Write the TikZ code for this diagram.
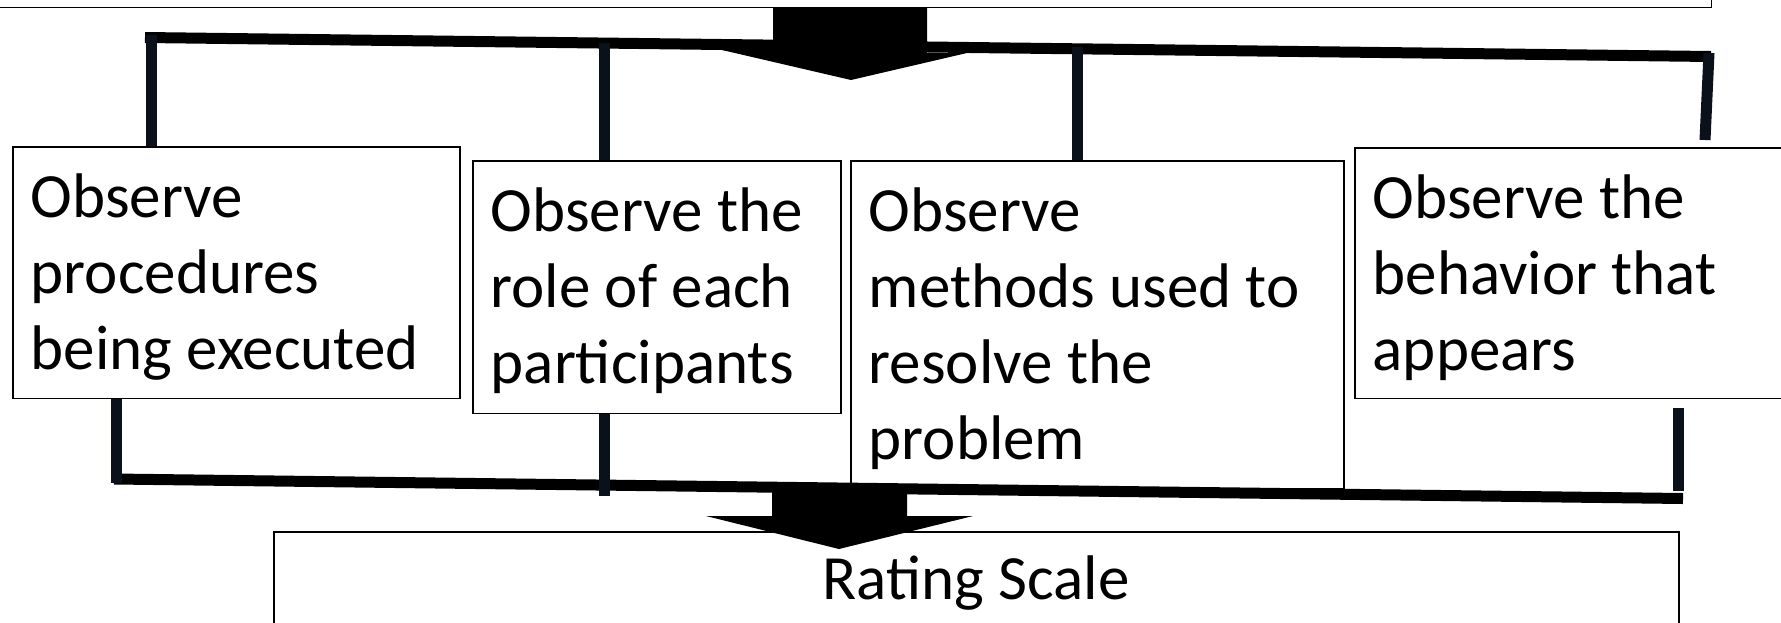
\documentclass[tikz,border=0pt]{standalone}
\usepackage{fontspec}
\setmainfont{Carlito}
\definecolor{stemcol}{RGB}{11,17,26}

\begin{document}
\begin{tikzpicture}[x=1pt,y=-1pt,
      observe/.style ={rectangle, draw, line width=1.5pt, anchor=north west, inner xsep=18pt, inner ysep=0pt, align=flush left, text height=70.5pt, font=\fontsize{63}{76}\selectfont},
      bus/.style ={line width=11pt},
      branch/.style ={line width=11pt, stemcol}]
   \useasboundingbox (0,0) rectangle (1781,622);
   \clip (0,0) rectangle (1781,622);
   \node[draw, line width=1.5pt, anchor=south east, minimum width=1800pt, minimum height=100pt] (top) at (1712,8) {};
   \node[observe, text width=411pt, text depth=181pt] (o1) at (12,146) {Observe\\procedures\\being executed};
   \node[observe, text width=332pt, text depth=182pt] (o2) at (472,160) {Observe the\\role of each\\participants};
   \node[observe, text width=457pt, text depth=257pt] (o3) at (850,160) {Observe\\methods used to\\resolve the\\problem};
   \node[observe, text width=460pt, text depth=180pt] (o4) at (1354,147) {Observe the\\behavior that\\appears};
   \node[observe, align=flush center, text width=1369pt, text height=68pt, text depth=70pt] (rate) at (273,531) {Rating Scale};
   \coordinate (ta) at (145,37.5);
   \coordinate (tb) at (1711,56.5);
   \coordinate (ba) at (114,479);
   \coordinate (bb) at (1683,498.5);
   \coordinate (t1) at (151,35);
   \coordinate (t2) at (604,43);
   \coordinate (t3) at (1077,47);
   \coordinate (t4) at (1709,53);
   \coordinate (e4) at (1705,140);
   \coordinate (s1) at (116,483);
   \coordinate (s2) at (604,496);
   \coordinate (s4) at (1678,491);
   \draw[bus] (ta) to (tb);
   \draw[bus] (ba) to (bb);
   \draw[branch] (t1) to (t1 |- o1.north);
   \draw[branch] (t2) to (t2 |- o2.north);
   \draw[branch] (t3) to (t3 |- o3.north);
   \draw[branch] (t4) to (e4);
   \draw[branch] (s1 |- o1.south) to (s1);
   \draw[branch] (s2 |- o2.south) to (s2);
   \draw[branch] ([yshift=-9pt]s4 |- o4.south) to (s4);
   \fill (773,8) -- (927,8) -- (927,53) -- (967,53) -- (851,80) -- (722,50) -- (773,50) -- cycle;
   \fill (772,484) -- (907,484) -- (907,516) -- (973,516) -- (839,549) -- (706,516) -- (772,516) -- cycle;
\end{tikzpicture}
\end{document}
